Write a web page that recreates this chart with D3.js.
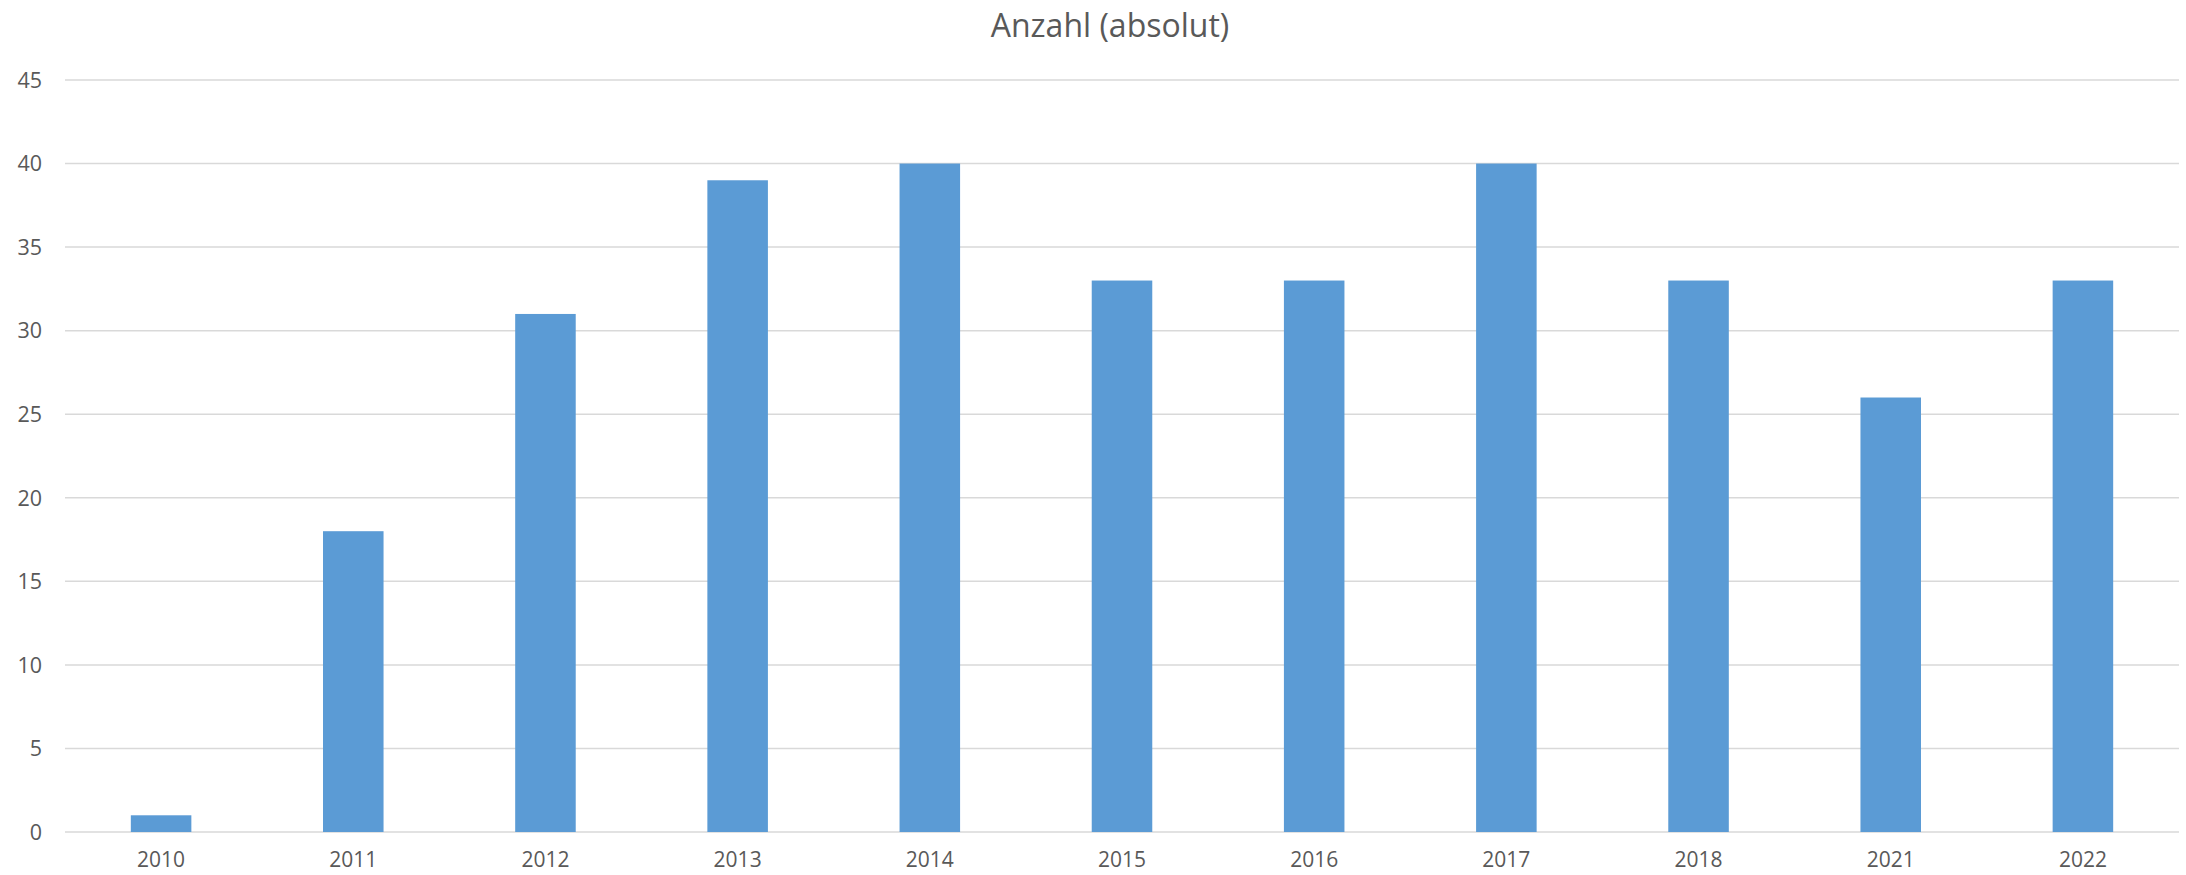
<!DOCTYPE html>
<html>
<head>
<meta charset="utf-8">
<script src="https://cdn.jsdelivr.net/npm/d3@7"></script>
<style>
  body { margin: 0; background: #fff; }
  svg text { font-family: "Open Sans", "Noto Sans", sans-serif; fill: #595959; }
</style>
</head>
<body>
<div id="chart"></div>
<script>
// data
var years = ["2010", "2011", "2012", "2013", "2014", "2015", "2016", "2017", "2018", "2021", "2022"];
var counts = [1, 18, 31, 39, 40, 33, 33, 40, 33, 26, 33];
var yTicks = [0, 5, 10, 15, 20, 25, 30, 35, 40, 45];
var title = "Anzahl (absolut)";

var width = 2186, height = 875;
var margin = {top: 80, right: 7, bottom: 43, left: 65};

var svg = d3.select("#chart").append("svg")
    .attr("width", width)
    .attr("height", height);

var x = d3.scaleBand()
    .domain(years)
    .range([margin.left, width - margin.right])
    .paddingInner(0.685)
    .paddingOuter(0.3425);

var y = d3.scaleLinear()
    .domain([0, 45])
    .range([height - margin.bottom, margin.top]);

// gridlines
svg.append("g")
    .selectAll("line")
    .data(yTicks)
    .enter().append("line")
    .attr("x1", margin.left)
    .attr("x2", width - margin.right)
    .attr("y1", function(d) { return y(d); })
    .attr("y2", function(d) { return y(d); })
    .attr("stroke", "#d9d9d9")
    .attr("stroke-width", 1.5);

// y labels
svg.append("g")
    .selectAll("text")
    .data(yTicks)
    .enter().append("text")
    .attr("x", 42)
    .attr("y", function(d) { return y(d); })
    .attr("dy", "0.36em")
    .attr("text-anchor", "end")
    .style("font-size", "21.5px")
    .text(function(d) { return d; });

// bars
svg.append("g")
    .selectAll("rect")
    .data(counts)
    .enter().append("rect")
    .attr("x", function(d, i) { return x(years[i]); })
    .attr("y", function(d) { return y(d); })
    .attr("width", x.bandwidth())
    .attr("height", function(d) { return y(0) - y(d); })
    .attr("fill", "#5b9bd5");

// x labels
svg.append("g")
    .selectAll("text")
    .data(years)
    .enter().append("text")
    .attr("x", function(d) { return x(d) + x.bandwidth() / 2; })
    .attr("y", 867)
    .attr("text-anchor", "middle")
    .style("font-size", "21px")
    .text(function(d) { return d; });

svg.append("text")
    .attr("x", 1110)
    .attr("y", 37)
    .attr("text-anchor", "middle")
    .style("font-size", "32px")
    .text(title);
</script>
</body>
</html>
